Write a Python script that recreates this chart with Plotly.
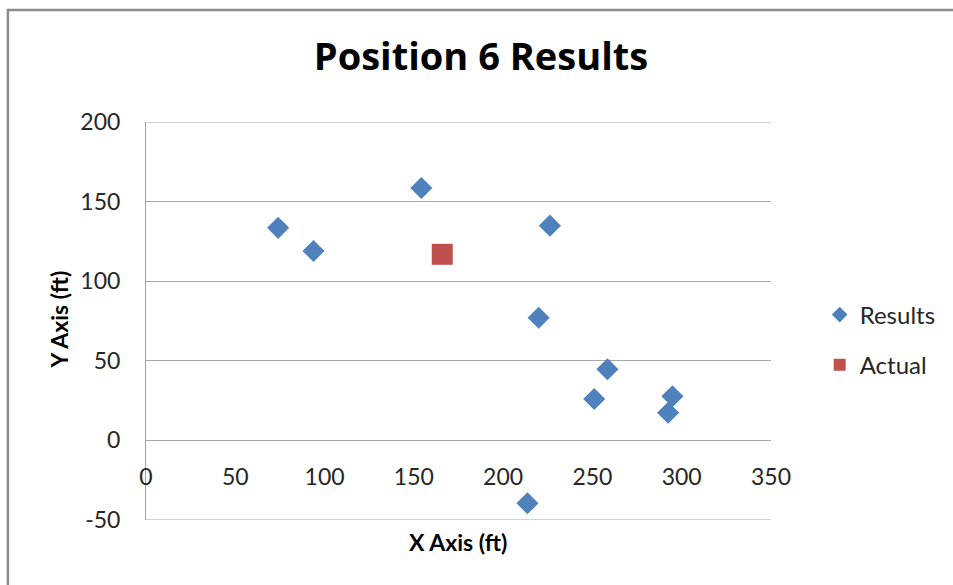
import plotly.graph_objects as go

# Measured positions (ft)
results_x = [74.0, 93.8, 154.2, 226.2, 219.9, 258.4, 251.0, 294.8, 292.4, 213.6]
results_y = [133.5, 119.0, 158.5, 134.9, 77.0, 44.7, 26.0, 27.7, 17.4, -39.5]
actual_x = [165.9]
actual_y = [116.9]

x_ticks = [0, 50, 100, 150, 200, 250, 300, 350]
y_ticks = [-50, 0, 50, 100, 150, 200]

FONT = "Lato"
GRID = "#a6a6a6"
TEXT = "#262626"

fig = go.Figure()
fig.add_trace(go.Scatter(
    x=results_x, y=results_y, mode="markers", name="Results", legendgroup="r",
    marker=dict(symbol="diamond", size=17, color="#4f81bd", line=dict(width=0)),
))
fig.add_trace(go.Scatter(
    x=actual_x, y=actual_y, mode="markers", name="Actual", legendgroup="a",
    marker=dict(symbol="square", size=21, color="#c0504d", line=dict(width=0)),
))

# the horizontal axis crosses the vertical one at y = 0
y_min, y_max = y_ticks[0], y_ticks[-1]
cross = (0 - y_min) / (y_max - y_min)

fig.update_layout(
    width=953, height=585,
    margin=dict(l=146, r=178, t=122, b=65),
    paper_bgcolor="white", plot_bgcolor="white",
    font=dict(family=FONT, color=TEXT, size=23),
    title=dict(text="<b>Position 6 Results</b>", x=481 / 953, xanchor="center",
               y=1 - 57 / 585, yanchor="middle",
               font=dict(family="Open Sans", size=38, color="#000000")),
    xaxis=dict(
        range=[x_ticks[0], x_ticks[-1]], tickvals=x_ticks,
        ticktext=[str(v) for v in x_ticks],
        showgrid=False, zeroline=False,
        showline=True, linecolor=GRID, linewidth=1,
        anchor="free", position=cross,
        ticks="", ticklen=0, ticklabelstandoff=16,
        tickfont=dict(family=FONT, size=23, color=TEXT),
    ),
    yaxis=dict(
        range=[y_min, y_max], tickvals=y_ticks,
        ticktext=[str(v) for v in y_ticks],
        showgrid=True, gridcolor=GRID, gridwidth=1,
        zeroline=False, showline=True, linecolor=GRID, linewidth=1,
        ticks="", ticklen=0, ticklabelstandoff=20,
        tickfont=dict(family=FONT, size=23, color=TEXT),
    ),
    legend=dict(
        x=(824 - 146) / 629, xanchor="left",
        y=(520 - 340) / 398, yanchor="middle",
        font=dict(family=FONT, size=24, color=TEXT),
        itemsizing="constant", tracegroupgap=16, bgcolor="rgba(0,0,0,0)",
    ),
    showlegend=True,
)

# horizontal gridlines at the ends of the value range
for v in (y_min, y_max):
    fig.add_shape(type="line", xref="paper", yref="y", x0=0, x1=1, y0=v, y1=v,
                  line=dict(color=GRID, width=1), layer="below")

# axis titles
fig.add_annotation(text="<b>X Axis (ft)</b>", xref="paper", yref="paper",
                   x=(460 - 146) / 629, y=(520 - 542) / 398,
                   xanchor="center", yanchor="middle", showarrow=False,
                   font=dict(family=FONT, size=23, color="#000000"))
fig.add_annotation(text="<b>Y Axis (ft)</b>", xref="paper", yref="paper",
                   x=(58 - 146) / 629, y=(520 - 320) / 398, textangle=-90,
                   xanchor="center", yanchor="middle", showarrow=False,
                   font=dict(family=FONT, size=23, color="#000000"))

# chart area frame
fig.add_shape(type="rect", xref="paper", yref="paper",
              x0=(7 - 146) / 629, x1=(1100 - 146) / 629,
              y0=(520 - 700) / 398, y1=(520 - 10) / 398,
              line=dict(color="#8c8c8c", width=2.5), fillcolor="rgba(0,0,0,0)",
              layer="below")

fig.write_html("out.html")
